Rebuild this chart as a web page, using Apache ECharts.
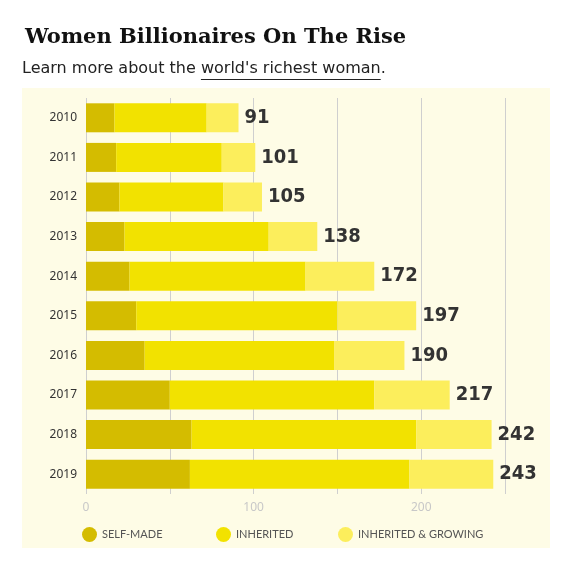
<!DOCTYPE html>
<html>
<head>
<meta charset="utf-8">
<script src="https://cdn.jsdelivr.net/npm/echarts@6/dist/echarts.min.js"></script>
<style>
html,body{margin:0;padding:0;background:#fff;}
#c{width:565px;height:566px;}
</style>
</head>
<body>
<div id="c"></div>
<script>
const years = ['2010','2011','2012','2013','2014','2015','2016','2017','2018','2019'];
const selfMade = [17, 18, 20, 23, 26, 30, 35, 50, 63, 62];
const inherited = [55, 63, 62, 86, 105, 120, 113, 122, 134, 131];
const inheritedGrowing = [19, 20, 23, 29, 41, 47, 42, 45, 45, 50];
const totals = [91, 101, 105, 138, 172, 197, 190, 217, 242, 243];
const seriesNames = ['SELF-MADE', 'INHERITED', 'INHERITED & GROWING'];
const axisTicks = [0, 100, 200];

const colors = ['#d4bc00', '#f2e200', '#fcee5c'];

// subtitle pieces, measured so the underline sits under the link text
const subFont = "16px 'DejaVu Sans'";
const subA = 'Learn more about the ';
const subB = "world's richest woman";
const subC = '.';
const ctx = document.createElement('canvas').getContext('2d');
ctx.font = subFont;
const wA = ctx.measureText(subA).width;
const wB = ctx.measureText(subB).width;
const subLeft = 22;

const chart = echarts.init(document.getElementById('c'));

const barBase = {
  type: 'bar',
  stack: 'total',
  barWidth: 29,
  emphasis: { disabled: true },
  animation: false
};

const legendBase = {
  top: 522,
  icon: 'circle',
  itemWidth: 15,
  itemHeight: 15,
  textStyle: { color: '#555', fontSize: 11, fontFamily: 'Lato' },
  selectedMode: false
};

const subStyle = { fontFamily: 'DejaVu Sans', fontSize: 16, fill: '#222' };

chart.setOption({
  animation: false,
  title: [{
    text: 'Women Billionaires On The Rise',
    left: 20,
    top: 22,
    textStyle: { fontFamily: 'DejaVu Serif', fontWeight: 'bold', fontSize: 21, color: '#111' }
  }],
  graphic: [
    { type: 'rect', left: 22, top: 88, shape: { width: 528, height: 460 }, style: { fill: '#fefce6' }, z: -10 },
    { type: 'text', left: subLeft, top: 61, style: Object.assign({ text: subA }, subStyle) },
    { type: 'text', left: subLeft + wA, top: 61, style: Object.assign({ text: subB }, subStyle) },
    { type: 'text', left: subLeft + wA + wB, top: 61, style: Object.assign({ text: subC }, subStyle) },
    { type: 'line', shape: { x1: subLeft + wA, y1: 79.5, x2: subLeft + wA + wB, y2: 79.5 }, style: { stroke: '#222', lineWidth: 1 } }
  ],
  legend: [
    Object.assign({}, legendBase, { left: 77, data: [seriesNames[0]] }),
    Object.assign({}, legendBase, { left: 211, data: [seriesNames[1]] }),
    Object.assign({}, legendBase, { left: 333, data: [seriesNames[2]] })
  ],
  grid: { left: 86, width: 419, top: 98, height: 396, containLabel: false },
  xAxis: {
    type: 'value',
    min: 0,
    max: 250,
    interval: 50,
    axisLine: { show: false },
    axisTick: { show: false },
    splitLine: { show: true, lineStyle: { color: '#cfcfcf', width: 1 } },
    axisLabel: {
      color: '#c8c8c8',
      fontSize: 12,
      fontFamily: 'Noto Sans',
      margin: 8,
      formatter: v => axisTicks.indexOf(v) >= 0 ? String(v) : ''
    }
  },
  yAxis: {
    type: 'category',
    data: years,
    inverse: true,
    axisLine: { show: false },
    axisTick: { show: false },
    axisLabel: { color: '#333', fontSize: 12, fontFamily: 'Noto Sans', margin: 9 }
  },
  series: [
    Object.assign({}, barBase, { name: seriesNames[0], data: selfMade, itemStyle: { color: colors[0] } }),
    Object.assign({}, barBase, { name: seriesNames[1], data: inherited, itemStyle: { color: colors[1] } }),
    Object.assign({}, barBase, {
      name: seriesNames[2], data: inheritedGrowing, itemStyle: { color: colors[2] },
      label: {
        show: true,
        position: 'right',
        distance: 6,
        formatter: p => String(totals[p.dataIndex]),
        fontFamily: "'DejaVu Sans Condensed', 'Roboto', sans-serif",
        fontWeight: 'bold',
        fontSize: 20,
        color: '#333'
      }
    })
  ]
});
</script>
</body>
</html>
